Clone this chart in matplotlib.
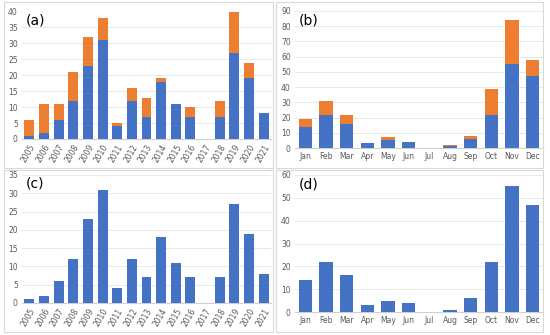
import matplotlib.pyplot as plt
from matplotlib.patches import Rectangle

years = [str(y) for y in range(2005, 2022)]
year_blue = [1, 2, 6, 12, 23, 31, 4, 12, 7, 18, 11, 7, 0, 7, 27, 19, 8]
year_orange = [5, 9, 5, 9, 9, 7, 1, 4, 6, 1, 0, 3, 0, 5, 13, 5, 0]

months = ["Jan", "Feb", "Mar", "Apr", "May", "Jun", "Jul", "Aug", "Sep", "Oct", "Nov", "Dec"]
month_blue = [14, 22, 16, 3, 5, 4, 0, 1, 6, 22, 55, 47]
month_orange = [5, 9, 6, 0, 2, 0, 0, 1, 2, 17, 29, 11]

BLUE = "#4472C4"
ORANGE = "#ED7D31"
GRID = "#e4e4e4"
TXT = "#595959"

W, H = 550, 335
fig = plt.figure(figsize=(W / 100, H / 100), dpi=100)


def px_axes(left, top, right, bottom):
    return fig.add_axes([left / W, 1 - bottom / H, (right - left) / W, (bottom - top) / H])


def box(left, top, right, bottom):
    fig.patches.append(Rectangle((left / W, 1 - bottom / H), (right - left) / W, (bottom - top) / H,
                                 transform=fig.transFigure, fill=False, edgecolor="#d9d9d9", lw=0.8))


def panel(rect, cats, blue, orange, ymax, step, label, width, rot):
    ax = px_axes(*rect)
    x = range(len(cats))
    ax.bar(x, blue, width=width, color=BLUE, zorder=3)
    if orange is not None:
        ax.bar(x, orange, bottom=blue, width=width, color=ORANGE, zorder=3)
    ax.set_xlim(-0.5, len(cats) - 0.5)
    ax.set_ylim(0, ymax)
    ax.set_yticks(range(0, ymax + 1, step))
    ax.set_xticks(list(x))
    if rot:
        ax.set_xticklabels(cats, rotation=60, ha="right", rotation_mode="anchor")
    else:
        ax.set_xticklabels(cats)
    for s in ["top", "right", "left"]:
        ax.spines[s].set_visible(False)
    ax.spines["bottom"].set_color("#d0d0d0")
    ax.spines["bottom"].set_linewidth(0.8)
    ax.grid(True, axis="y", color=GRID, linewidth=0.6, zorder=0)
    ax.tick_params(length=0, labelsize=5.5, colors=TXT, pad=3)
    ax.text(0.015, 0.93, label, transform=ax.transAxes, fontsize=10, va="center", ha="left")
    return ax


box(4, 2, 273, 168)
box(276, 2, 543, 168)
box(4, 170, 273, 332)
box(276, 170, 543, 332)

panel((22, 11.5, 271, 139), years, year_blue, year_orange, 40, 5, "(a)", 0.68, True)
panel((295, 11, 543, 148), months, month_blue, month_orange, 90, 10, "(b)", 0.65, False)
panel((22, 175, 271, 303), years, year_blue, None, 35, 5, "(c)", 0.68, True)
panel((295, 175, 543, 312), months, month_blue, None, 60, 10, "(d)", 0.65, False)

fig.savefig("out.png", dpi=100)
